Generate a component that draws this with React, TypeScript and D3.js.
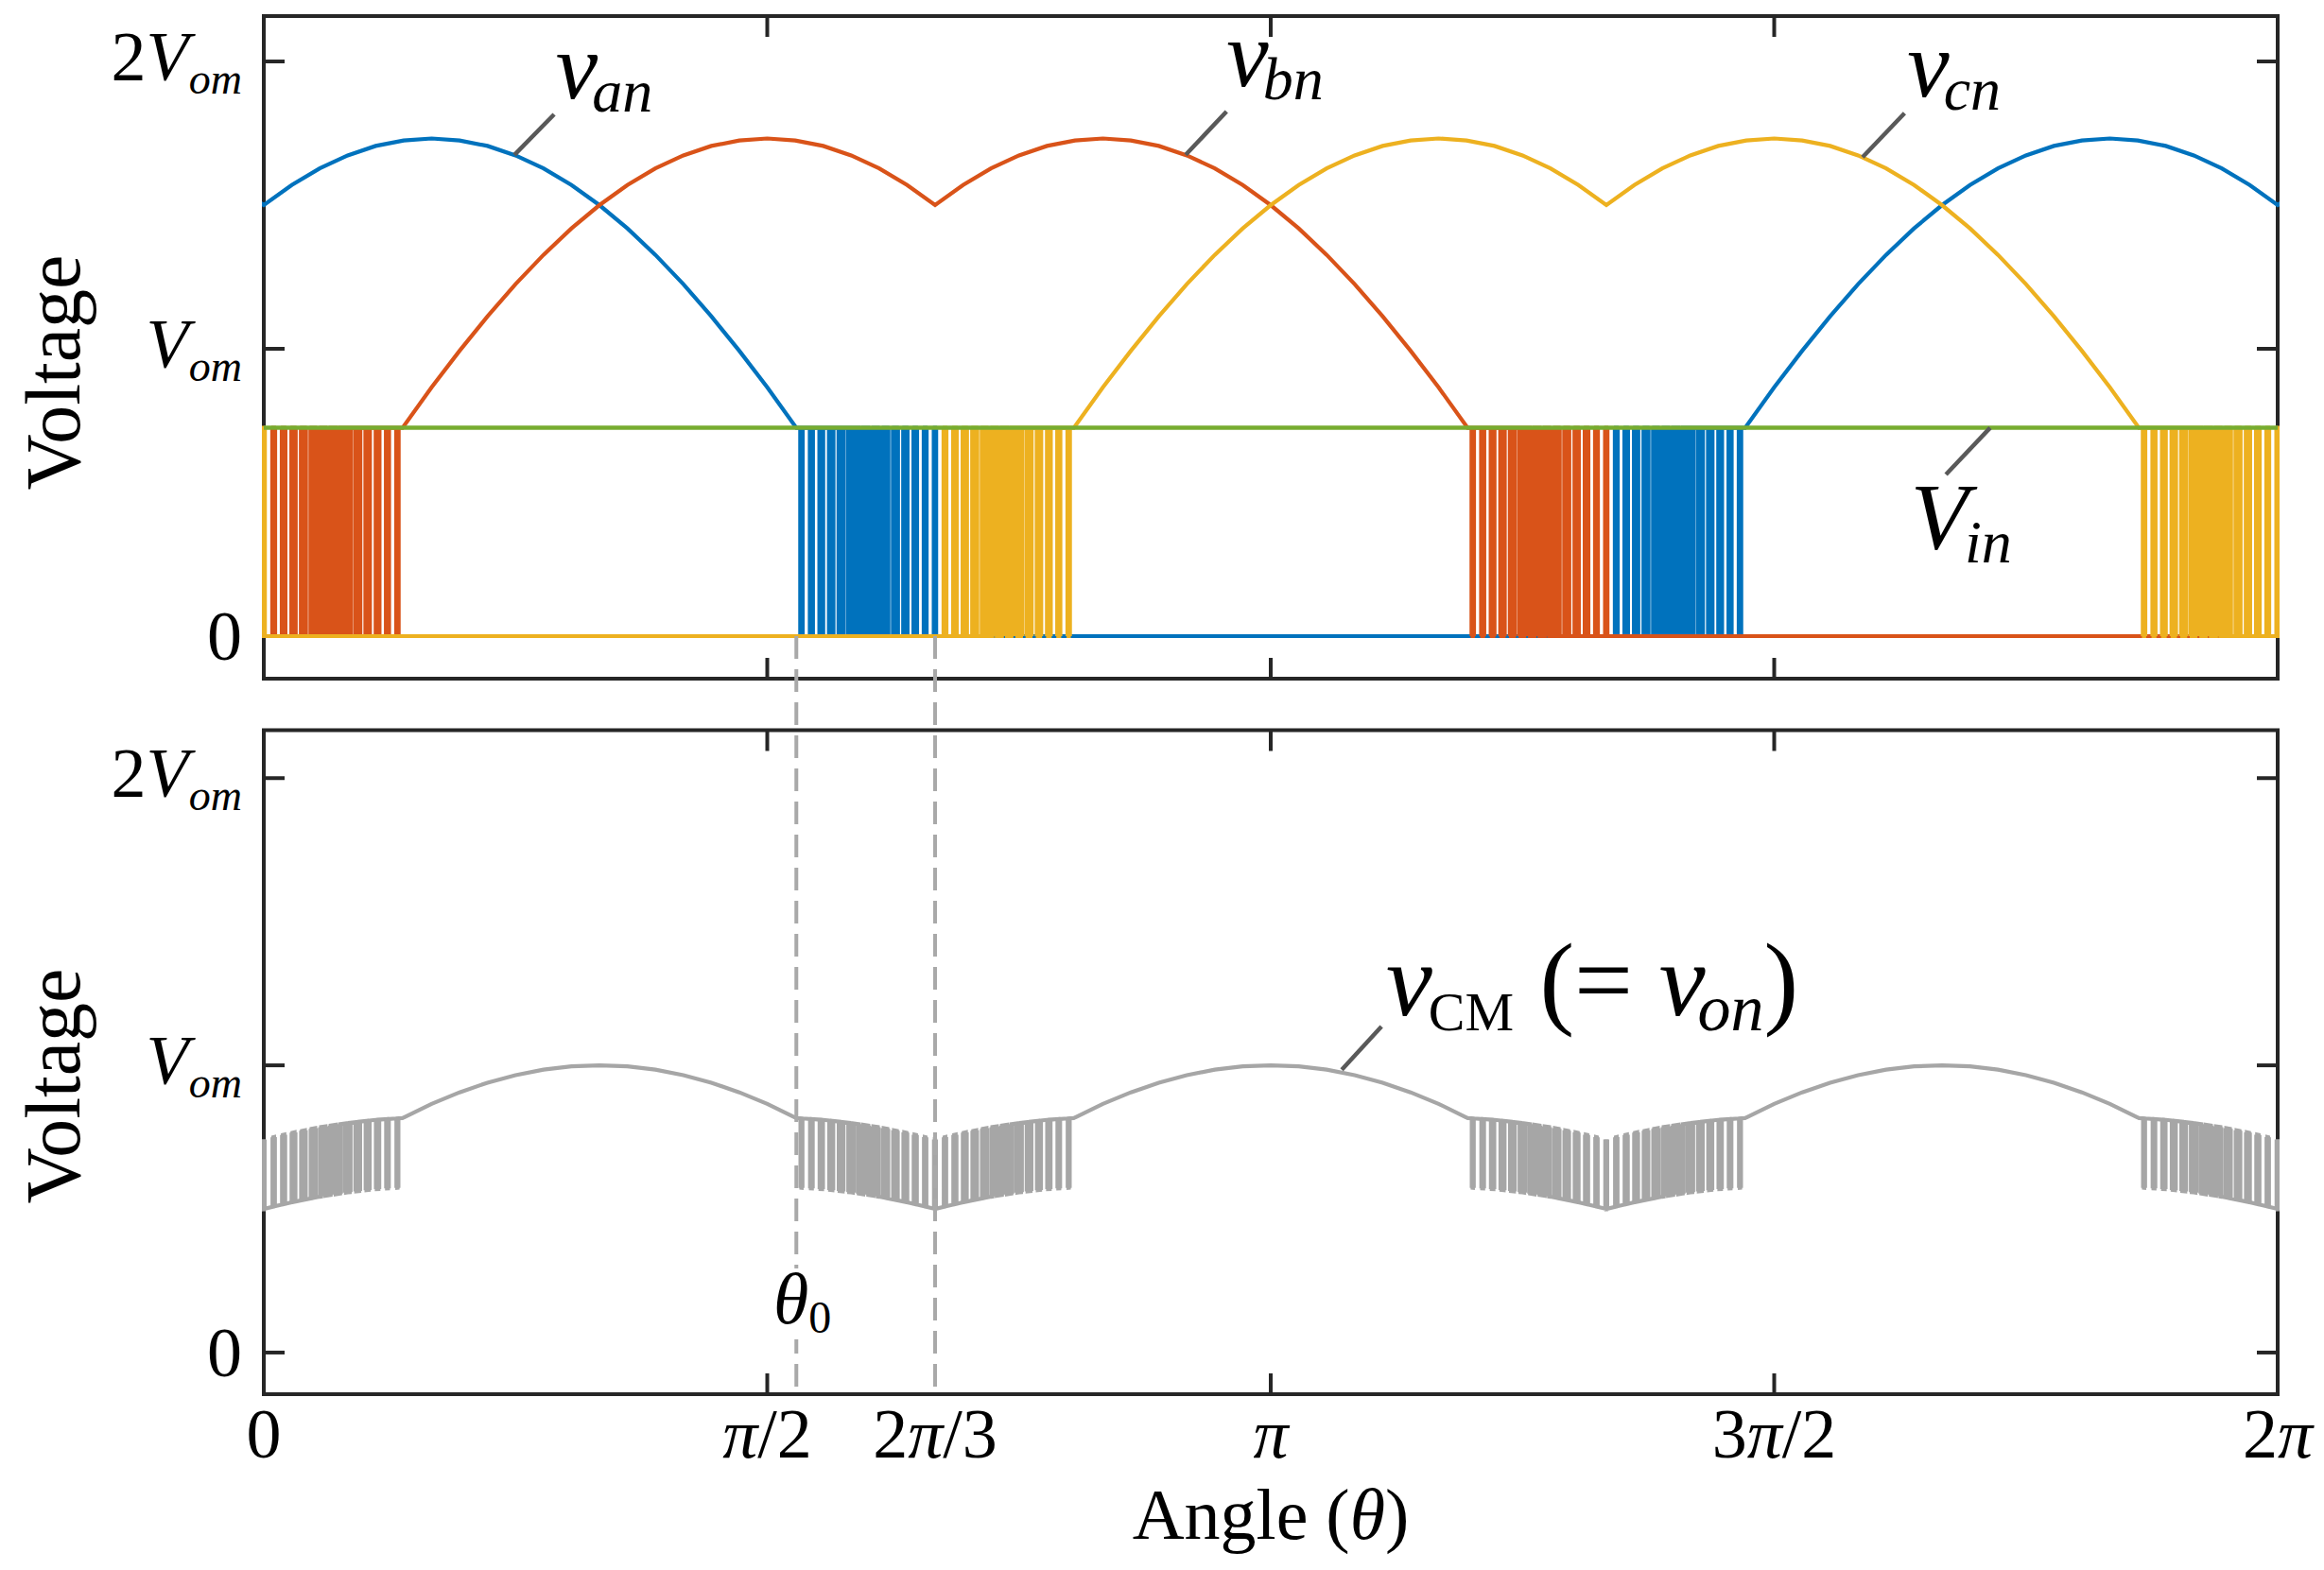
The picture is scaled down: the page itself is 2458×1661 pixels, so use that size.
import * as React from "react";
import * as d3 from "d3";

type Part = { t: string; italic?: boolean; size?: number; shift?: number; dx?: number };
type Pt = [number, number];

// ---- data: angles in degrees, voltages in units of V_om ----
const xTickDeg = [0, 90, 180, 270, 360];
const xTickLabels: Part[][] = [
  [{ t: "0" }],
  [{ t: "π", italic: true }, { t: "/2" }],
  [{ t: "π", italic: true }],
  [{ t: "3" }, { t: "π", italic: true }, { t: "/2" }],
  [{ t: "2" }, { t: "π", italic: true }],
];
const extraXLabelDeg = 120;
const extraXLabel: Part[] = [{ t: "2" }, { t: "π", italic: true }, { t: "/3" }];

const yTickValues = [0, 1, 2];
const yTickLabels: Part[][] = [
  [{ t: "0" }],
  [{ t: "V", italic: true }, { t: "om", italic: true, size: 46, shift: 14 }],
  [{ t: "2" }, { t: "V", italic: true }, { t: "om", italic: true, size: 46, shift: 14 }],
];

const phaseNames = ["an", "bn", "cn"];
const phaseCenterDeg = [0, 120, 240];
const phaseColors = ["#0072BD", "#D95319", "#EDB120"];

const vIn = 0.725;
const theta0Deg = 95.2;
const kinkDeg = 120;
// one phase's upper arc, read against |angle| from its own centre
const arcDeg = [0, 5, 10, 15, 20, 25, 30, 35, 40, 45, 50, 55, 60, 65, 70, 75, 80, 85, 90, 95.2];
const arcValue = [
  1.5, 1.57, 1.628, 1.673, 1.706, 1.725, 1.732, 1.725, 1.706, 1.673, 1.628, 1.57, 1.5, 1.419,
  1.327, 1.225, 1.113, 0.993, 0.866, 0.725,
];
// duty of each switching pulse, counted from the kink towards theta0
const pwmDuty = [
  0.05, 0.074, 0.148, 0.221, 0.295, 0.368, 0.441, 0.514, 0.585, 0.656, 0.727, 0.797, 0.866,
  0.935, 1,
];

// annotation anchors [deg, V_om]
const phaseLabelAt: Pt[] = [[52.2, 1.872], [172.1, 1.914], [293.8, 1.878]];
const phaseLeader: [Pt, Pt][] = [
  [[44.8, 1.675], [51.9, 1.816]],
  [[164.8, 1.675], [172.1, 1.826]],
  [[285.8, 1.667], [293.3, 1.82]],
];
const vinLabelAt: Pt = [294.4, 0.306];
const vinLeader: [Pt, Pt] = [[300.7, 0.5625], [308.6, vIn]];
const cmLabelAt: Pt = [200.6, 1.174];
const cmLeader: [Pt, Pt] = [[192.7, 0.985], [199.8, 1.135]];
const theta0LabelAt: Pt = [91.1, 0.102];

// ---- layout ----
const W = 2458;
const H = 1661;
const plotLeft = 279;
const plotRight = 2409;
const upperTop = 17;
const upperBottom = 718;
const lowerTop = 772.5;
const lowerBottom = 1475;
const tickLen = 22;
const font = "'Liberation Serif', 'Times New Roman', serif";
const axisColor = "#262626";
const leaderColor = "#595959";
const cmColor = "#A6A6A6";

const pwmPeriod = (kinkDeg - theta0Deg) / (pwmDuty.length - 1);

function pwmBlock(withKinkPulse: boolean): Pt[] {
  const pts: Pt[] = [[0, 0]];
  const last = pwmDuty.length - 1;
  pwmDuty.forEach((d, k) => {
    const c = k * pwmPeriod;
    const h = (d * pwmPeriod) / 2;
    if (k === 0) {
      if (withKinkPulse) pts.push([0, vIn], [h, vIn], [h, 0]);
    } else if (k === last) {
      pts.push([c - h, 0], [c - h, vIn], [c, vIn]);
    } else {
      pts.push([c - h, 0], [c - h, vIn], [c + h, vIn], [c + h, 0]);
    }
  });
  return pts;
}

function baseTrace(): Pt[] {
  const left = pwmBlock(false).map(([d, v]) => [-kinkDeg + d, v] as Pt);
  const right = pwmBlock(true)
    .map(([d, v]) => [kinkDeg - d, v] as Pt)
    .reverse();
  const arcNeg = arcDeg
    .slice(1)
    .map((a, i) => [-a, arcValue[i + 1]] as Pt)
    .reverse();
  const arcPos = arcDeg.map((a, i) => [a, arcValue[i]] as Pt);
  return [[-180, 0], ...left, ...arcNeg, ...arcPos, ...right, [180, 0]];
}

const base = baseTrace();
const phaseTraces: Pt[][] = phaseCenterDeg.map((c) =>
  [-360, 0, 360].flatMap((s) => base.map(([u, v]) => [u + c + s, v] as Pt))
);

function valueAt(trace: Pt[], xs: number[], x: number) {
  const i = d3.bisectRight(xs, x);
  if (i <= 0) return trace[0][1];
  if (i >= trace.length) return trace[trace.length - 1][1];
  const [x0, y0] = trace[i - 1];
  const [x1, y1] = trace[i];
  if (x0 === x) return y0;
  return y0 + ((y1 - y0) * (x - x0)) / (x1 - x0);
}

// v_CM = (v_an + v_bn + v_cn) / 3
function commonMode(): Pt[] {
  const xsList = phaseTraces.map((t) => t.map((p) => p[0]));
  const all: { x: number; v: number; j: number }[] = [];
  phaseTraces.forEach((t, j) =>
    t.forEach(([x, v]) => {
      if (x >= -3 && x <= 363) all.push({ x, v, j });
    })
  );
  all.sort((a, b) => a.x - b.x);
  return all.map(({ x, v, j }) => {
    let sum = v;
    phaseTraces.forEach((t, i) => {
      if (i !== j) sum += valueAt(t, xsList[i], x);
    });
    return [x, sum / 3] as Pt;
  });
}
const cmTrace = commonMode();

// the switching edges of a trace (same angle, different level)
function edgesOf(trace: Pt[]): [Pt, Pt][] {
  const out: [Pt, Pt][] = [];
  for (let i = 0; i < trace.length - 1; i++) {
    const a = trace[i];
    const b = trace[i + 1];
    if (a[0] === b[0] && Math.abs(a[1] - b[1]) > 1e-6) out.push([a, b]);
  }
  return out;
}

function Rich({
  parts,
  x,
  y,
  size,
  anchor = "start",
}: {
  parts: Part[];
  x: number;
  y: number;
  size: number;
  anchor?: "start" | "middle" | "end";
}) {
  let cur = 0;
  return (
    <text x={x} y={y} fontSize={size} textAnchor={anchor} fontFamily={font} fill="#000" style={{ whiteSpace: "pre" }}>
      {parts.map((p, i) => {
        const s = p.shift ?? 0;
        const dy = s - cur;
        cur = s;
        return (
          <tspan
            key={i}
            dy={dy !== 0 ? dy : undefined}
            dx={p.dx}
            fontStyle={p.italic ? "italic" : "normal"}
            fontSize={p.size ?? size}
          >
            {p.t}
          </tspan>
        );
      })}
    </text>
  );
}

function Panel({
  top,
  bottom,
  yScale,
  xScale,
  clipId,
  labelCenterY,
  children,
}: {
  top: number;
  bottom: number;
  yScale: d3.ScaleLinear<number, number>;
  xScale: d3.ScaleLinear<number, number>;
  clipId: string;
  labelCenterY: number;
  children: React.ReactNode;
}) {
  return (
    <g>
      <defs>
        <clipPath id={clipId}>
          <rect x={plotLeft - 2} y={top - 2} width={plotRight - plotLeft + 4} height={bottom - top + 4} />
        </clipPath>
      </defs>
      <rect
        x={plotLeft}
        y={top}
        width={plotRight - plotLeft}
        height={bottom - top}
        fill="none"
        stroke={axisColor}
        strokeWidth={4}
      />
      {xTickDeg.map((t, i) => (
        <g key={i} stroke={axisColor} strokeWidth={4}>
          <line x1={xScale(t)} x2={xScale(t)} y1={bottom} y2={bottom - tickLen} />
          <line x1={xScale(t)} x2={xScale(t)} y1={top} y2={top + tickLen} />
        </g>
      ))}
      {yTickValues.map((v, i) => (
        <g key={i}>
          <line x1={plotLeft} x2={plotLeft + tickLen} y1={yScale(v)} y2={yScale(v)} stroke={axisColor} strokeWidth={4} />
          <line x1={plotRight} x2={plotRight - tickLen} y1={yScale(v)} y2={yScale(v)} stroke={axisColor} strokeWidth={4} />
          <Rich parts={yTickLabels[i]} x={256} y={yScale(v) + (v === 0 ? 25 : 20)} size={74} anchor="end" />
        </g>
      ))}
      <text
        transform={`translate(84, ${labelCenterY}) rotate(-90)`}
        textAnchor="middle"
        fontSize={82}
        fontFamily={font}
      >
        Voltage
      </text>
      <g clipPath={`url(#${clipId})`}>{children}</g>
    </g>
  );
}

export default function App() {
  const x = d3.scaleLinear().domain([0, 360]).range([plotLeft, plotRight]);
  const yU = d3.scaleLinear().domain([-0.148, 2.158]).range([upperBottom, upperTop]);
  const yL = d3.scaleLinear().domain([-0.145, 2.167]).range([lowerBottom, lowerTop]);

  const lineU = d3
    .line<Pt>()
    .x((d) => x(d[0]))
    .y((d) => yU(d[1]));
  const lineL = d3
    .line<Pt>()
    .x((d) => x(d[0]))
    .y((d) => yL(d[1]));

  const edgePath = (trace: Pt[], y: d3.ScaleLinear<number, number>) =>
    edgesOf(trace)
      .map(([a, b]) => `M${x(a[0])},${y(a[1])}V${y(b[1])}`)
      .join("");

  const t0x = x(theta0LabelAt[0]);
  const t0y = yL(theta0LabelAt[1]);

  return (
    <svg
      width={W}
      height={H}
      viewBox={`0 0 ${W} ${H}`}
      style={{ position: "absolute", left: 0, top: 0, background: "#fff" }}
    >
      <rect width={W} height={H} fill="#fff" />

      {/* upper panel: phase voltages */}
      <Panel top={upperTop} bottom={upperBottom} yScale={yU} xScale={x} clipId="clipU" labelCenterY={394}>
        {phaseTraces.map((t, i) => (
          <g key={i}>
            <path d={lineU(t) ?? ""} fill="none" stroke={phaseColors[i]} strokeWidth={4.2} />
            <path d={edgePath(t, yU)} fill="none" stroke={phaseColors[i]} strokeWidth={6.5} />
          </g>
        ))}
        <path d={lineU([[0, vIn], [360, vIn]]) ?? ""} fill="none" stroke="#77AC30" strokeWidth={4.5} />
      </Panel>

      {/* lower panel: common-mode voltage */}
      <Panel top={lowerTop} bottom={lowerBottom} yScale={yL} xScale={x} clipId="clipL" labelCenterY={1149}>
        <path d={lineL(cmTrace) ?? ""} fill="none" stroke={cmColor} strokeWidth={4.2} />
        <path d={edgePath(cmTrace, yL)} fill="none" stroke={cmColor} strokeWidth={6} />
      </Panel>

      {/* x tick labels */}
      {xTickDeg.map((t, i) => (
        <Rich key={i} parts={xTickLabels[i]} x={x(t)} y={lowerBottom + 67} size={74} anchor="middle" />
      ))}
      <Rich parts={extraXLabel} x={x(extraXLabelDeg)} y={lowerBottom + 67} size={74} anchor="middle" />
      <Rich
        parts={[{ t: "Angle (" }, { t: "θ", italic: true }, { t: ")" }]}
        x={(plotLeft + plotRight) / 2}
        y={1628}
        size={76}
        anchor="middle"
      />

      {/* guides at theta0 and 2π/3 */}
      {[theta0Deg, extraXLabelDeg].map((t, i) => (
        <line
          key={i}
          x1={x(t)}
          x2={x(t)}
          y1={yU(0)}
          y2={lowerBottom + 3}
          stroke="#A9A9A9"
          strokeWidth={4}
          strokeDasharray="24 11"
        />
      ))}
      <rect x={t0x - 6} y={t0y - 58} width={70} height={75} fill="#fff" />
      <Rich
        parts={[{ t: "θ", italic: true }, { t: "0", size: 48, shift: 10 }]}
        x={t0x}
        y={t0y}
        size={76}
      />

      {/* phase labels */}
      {phaseNames.map((n, i) => (
        <g key={n}>
          <line
            x1={x(phaseLeader[i][0][0])}
            y1={yU(phaseLeader[i][0][1])}
            x2={x(phaseLeader[i][1][0])}
            y2={yU(phaseLeader[i][1][1])}
            stroke={leaderColor}
            strokeWidth={4.5}
          />
          <Rich
            parts={[{ t: "v", italic: true }, { t: n, italic: true, size: 64, shift: 14, dx: -6 }]}
            x={x(phaseLabelAt[i][0])}
            y={yU(phaseLabelAt[i][1])}
            size={100}
          />
        </g>
      ))}
      <line
        x1={x(vinLeader[0][0])}
        y1={yU(vinLeader[0][1])}
        x2={x(vinLeader[1][0])}
        y2={yU(vinLeader[1][1])}
        stroke={leaderColor}
        strokeWidth={4.5}
      />
      <Rich
        parts={[{ t: "V", italic: true }, { t: "in", italic: true, size: 64, shift: 15, dx: -4 }]}
        x={x(vinLabelAt[0])}
        y={yU(vinLabelAt[1])}
        size={100}
      />
      <line
        x1={x(cmLeader[0][0])}
        y1={yL(cmLeader[0][1])}
        x2={x(cmLeader[1][0])}
        y2={yL(cmLeader[1][1])}
        stroke={leaderColor}
        strokeWidth={4.5}
      />
      <Rich
        parts={[
          { t: "v", italic: true },
          { t: "CM", size: 58, shift: 16, dx: -4 },
          { t: " (= ", shift: 0 },
          { t: "v", italic: true },
          { t: "on", italic: true, size: 70, shift: 16, dx: -8 },
          { t: ")", shift: 0 },
        ]}
        x={x(cmLabelAt[0])}
        y={yL(cmLabelAt[1])}
        size={110}
      />
    </svg>
  );
}
